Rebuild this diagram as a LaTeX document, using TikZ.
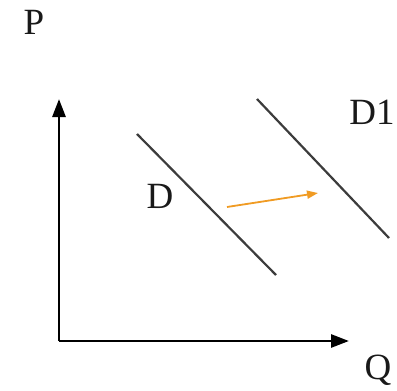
\documentclass[tikz,border=0pt]{standalone}
\usepackage{fontspec}
\setmainfont{Liberation Serif}
\usetikzlibrary{arrows.meta}
\definecolor{shiftorange}{RGB}{240,155,35}
\definecolor{curvegray}{RGB}{60,60,60}
\begin{document}
\begin{tikzpicture}[x=1pt,y=-1pt,
  axis/.style={line width=2.8pt,-{Triangle[length=18pt,width=13pt]}},
  curve/.style={line width=2.2pt,draw=curvegray},
  shiftarrow/.style={line width=1.8pt,draw=shiftorange,-{Triangle[length=11pt,width=8pt]}},
  lbl/.style={font=\fontsize{37}{37}\selectfont,inner sep=0pt,text=black!90}]
\useasboundingbox (0,0) rectangle (397,391);
\coordinate (origin) at (59,341);
\coordinate (ytop) at (59,99);
\coordinate (xend) at (349,341);
\draw[axis] (origin) -- (ytop);
\draw[axis] (origin) -- (xend);
\coordinate (d1) at (137,134);
\coordinate (d2) at (276,275);
\coordinate (e1) at (257,99);
\coordinate (e2) at (389,238);
\draw[curve] (d1) -- (d2);
\draw[curve] (e1) -- (e2);
\coordinate (s1) at (227,207);
\coordinate (s2) at (318,193);
\draw[shiftarrow] (s1) -- (s2);
\node[lbl] (P) at (34,22) {P};
\node[lbl] (Q) at (378,370) {Q};
\node[lbl] (D) at (160,196) {D};
\node[lbl] (D1) at (372,112) {D1};
\end{tikzpicture}
\end{document}
